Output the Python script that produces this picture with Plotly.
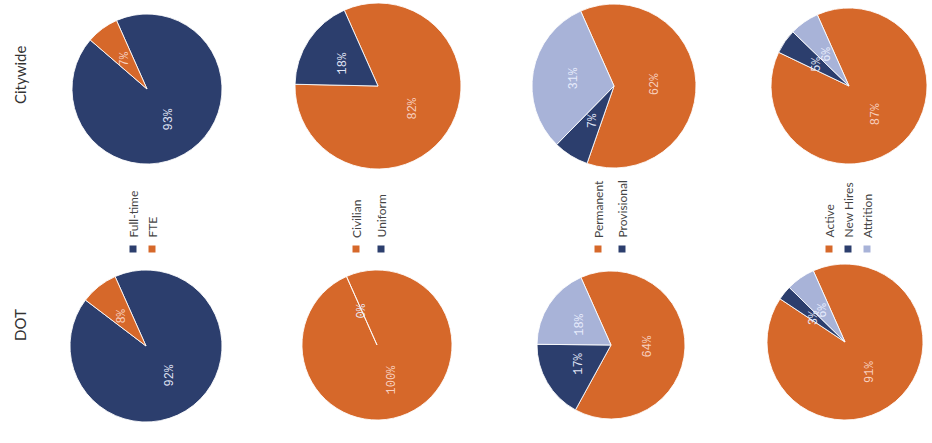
import math
import plotly.graph_objects as go

W, H = 932, 443

# ---------------- data ----------------
row_names = ["Citywide", "DOT"]

fulltime_labels = ["Full-time", "FTE"]
citywide_fulltime = [93, 7]
dot_fulltime = [92, 8]

civilian_labels = ["Civilian", "Uniform"]
citywide_civilian = [82, 18]
dot_civilian = [100, 0]

permanent_labels = ["Permanent", "Provisional", "Other"]
permanent_legend = ["Permanent", "Provisional"]
citywide_permanent = [62, 7, 31]
dot_permanent = [64, 17, 18]

active_labels = ["Active", "New Hires", "Attrition"]
citywide_active = [87, 5, 6]
dot_active = [91, 3, 6]

# ---------------- styles ----------------
ORANGE = "#D6682A"
NAVY = "#2C3E6D"
LIGHT = "#A8B3D8"

groups = [
    dict(labels=fulltime_labels, legend=fulltime_labels, colors=[NAVY, ORANGE],
         values=[citywide_fulltime, dot_fulltime]),
    dict(labels=civilian_labels, legend=civilian_labels, colors=[ORANGE, NAVY],
         values=[citywide_civilian, dot_civilian]),
    dict(labels=permanent_labels, legend=permanent_legend, colors=[ORANGE, NAVY, LIGHT],
         values=[citywide_permanent, dot_permanent]),
    dict(labels=active_labels, legend=active_labels, colors=[ORANGE, NAVY, LIGHT],
         values=[citywide_active, dot_active]),
]

# pie geometry in pixels: (center x, center y, radius) for [row][col]
geom = [
    [(147, 89, 75), (378, 86, 83), (614, 86, 82), (849, 86, 78)],
    [(146, 346, 76), (377, 345, 75), (611, 345, 74), (845, 342, 78)],
]
legend_x = [[133, 152], [356, 381], [598, 622], [829, 848, 867]]
legend_text_bottom = 240
legend_marker_y = 249
ROTATION = -24  # first slice starts 24 deg counter-clockwise from 12 o'clock


def px(x):
    return x / W


def py(y):
    return 1 - y / H


fig = go.Figure()
annotations = []
shapes = []

for c, g in enumerate(groups):
    for r in range(2):
        vals = g["values"][r]
        cx, cy, rad = geom[r][c]
        fig.add_trace(go.Pie(
            labels=g["labels"], values=vals,
            marker=dict(colors=g["colors"], line=dict(color="rgba(255,255,255,0.85)", width=1)),
            sort=False, direction="clockwise", rotation=ROTATION,
            textinfo="none", showlegend=False,
            domain=dict(x=[max(0, px(cx - rad)), min(1, px(cx + rad))],
                        y=[max(0, py(cy + rad)), min(1, py(cy - rad))]),
            hoverinfo="label+value",
        ))
        # slice labels, placed from the data along each slice's middle angle
        total = sum(vals)
        cum = 0.0
        start = 90 - ROTATION
        for v, col in zip(vals, g["colors"]):
            mid = (cum + v / 2) / total
            cum += v
            ang = math.radians(start - 360 * mid)
            lx = cx + 0.5 * rad * math.cos(ang)
            ly = cy - 0.5 * rad * math.sin(ang)
            tcol = "rgba(250,215,200,0.95)" if col == ORANGE else "rgba(235,240,255,0.95)"
            annotations.append(dict(
                x=px(lx), y=py(ly), xref="paper", yref="paper",
                text=f"{v}%", showarrow=False, textangle=-90,
                font=dict(family="Liberation Mono", size=12, color=tcol),
                xanchor="center", yanchor="middle",
            ))

    # legend (rotated text + square markers)
    for name, col, lx in zip(g["legend"], g["colors"], legend_x[c]):
        annotations.append(dict(
            x=px(lx), y=py(legend_text_bottom), xref="paper", yref="paper",
            text=name, showarrow=False, textangle=-90,
            font=dict(family="Lato", size=12, color="#444444"),
            xanchor="center", yanchor="bottom",
        ))
        shapes.append(dict(
            type="rect", xref="paper", yref="paper",
            x0=px(lx - 3.5), x1=px(lx + 3.5),
            y0=py(legend_marker_y + 3.5), y1=py(legend_marker_y - 3.5),
            fillcolor=col, line=dict(width=0),
        ))

# row labels
for name, cy in zip(row_names, [75, 325]):
    annotations.append(dict(
        x=px(20), y=py(cy), xref="paper", yref="paper",
        text=name, showarrow=False, textangle=-90,
        font=dict(family="Lato", size=15, color="#333333"),
        xanchor="center", yanchor="middle",
    ))

fig.update_layout(
    width=W, height=H,
    margin=dict(l=0, r=0, t=0, b=0),
    paper_bgcolor="white", plot_bgcolor="white",
    annotations=annotations, shapes=shapes,
    showlegend=False,
)

# remove the browser's default 8px body margin so the figure fills the window
fig.write_html(
    "out.html",
    config={"displayModeBar": False},
    post_script="document.body.style.margin='0';document.body.style.overflow='hidden';",
)
